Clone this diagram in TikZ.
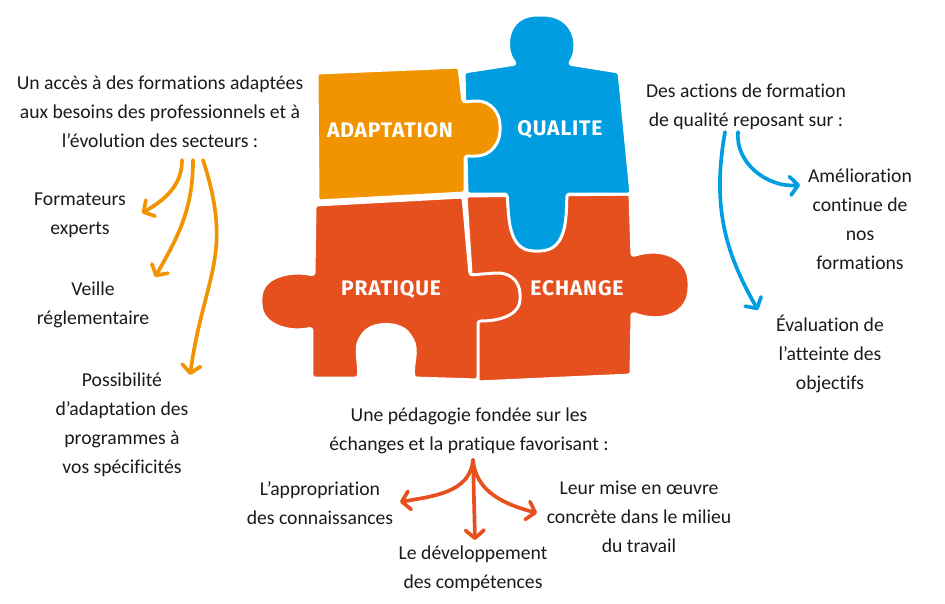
\documentclass[tikz,border=0pt]{standalone}
\usepackage{fontspec}
\setmainfont{Carlito}[Ligatures=NoCommon]
\newfontfamily\piecefont{Fira Sans}[LetterSpace=4]
\usetikzlibrary{arrows.meta,calc}
\definecolor{orangeA}{HTML}{F29400}
\definecolor{bleuQ}{HTML}{009EE0}
\definecolor{rougeP}{HTML}{E5501E}
\definecolor{texteN}{HTML}{1A1A1A}

\begin{document}
\begin{tikzpicture}[x=0.02cm,y=-0.02cm,
    piece/.style={draw=white,line width=1.7pt,line join=round,rounded corners=1.5pt},
    etiquette/.style={text=white,font=\piecefont\bfseries\fontsize{12}{14}\selectfont},
    bloc/.style={align=center,text=texteN,font=\fontsize{11.2}{16.5}\selectfont},
    fleche/.style={line width=2.1pt,line cap=round,-{Straight Barb[length=4.5pt,width=10.5pt,round]}},]
    \useasboundingbox (0,0) rectangle (945,603);
    \path[piece,fill=rougeP] (466,196) -- (630,194) -- (632,256) .. controls (662,246) and (689,258) .. (689,285) .. controls (689,314) and (662,324) .. (632,313) -- (631,375) -- (478,382) -- cycle;
    \path[piece,fill=bleuQ] (464,72) -- (516,64) .. controls (504,50) and (505,15) .. (540,15) .. controls (576,15) and (580,48) .. (569,64) -- (619,72) -- (631,194) -- (567,194) .. controls (566,215) and (568,251) .. (537,251) .. controls (507,251) and (509,215) .. (507,194) -- (467,194) -- cycle;
    \path[piece,fill=orangeA] (317,73) -- (459,67) -- (463,102) -- (474,101) .. controls (492,101) and (500,114) .. (500,128) .. controls (500,143) and (491,156) .. (473,156) -- (465,156) -- (465,193) -- (318,201) -- cycle;
    \path[piece,fill=rougeP] (315,205) -- (463,197) -- (470,275) -- (495,273) .. controls (513,273) and (520,284) .. (520,297) .. controls (520,311) and (507,321) .. (478,321) -- (478,380) -- (414,378) .. controls (412,365) and (419,350) .. (411,337) .. controls (401,321) and (371,321) .. (361,337) .. controls (354,349) and (360,365) .. (358,378) -- (312,378) -- (312,328) .. controls (290,333) and (261,326) .. (261,301) .. controls (261,276) and (290,270) .. (314,275) -- cycle;
    \node[etiquette] at (390,130) (pieceAdaptation) {ADAPTATION};
    \node[etiquette] at (560,130) (pieceQualite) {QUALITE};
    \node[etiquette] at (391,290) (piecePratique) {PRATIQUE};
    \node[etiquette] at (577,288) (pieceEchange) {ECHANGE};
    \node[bloc] at (160,112) (blocAcces) {Un accès à des formations adaptées\\aux besoins des professionnels et à\\l’évolution des secteurs :};
    \node[bloc] at (80,215) (blocFormateurs) {Formateurs\\experts};
    \node[bloc] at (93,305) (blocVeille) {Veille\\réglementaire};
    \node[bloc] at (122,425) (blocPossibilite) {Possibilité\\d’adaptation des\\programmes à\\vos spécificités};
    \node[bloc] at (746,107) (blocActions) {Des actions de formation\\de qualité reposant sur :};
    \node[bloc] at (860,219) (blocAmelioration) {Amélioration\\continue de\\nos\\formations};
    \node[bloc] at (830,354) (blocEvaluation) {Évaluation de\\l’atteinte des\\objectifs};
    \node[bloc] at (469,431) (blocPedagogie) {Une pédagogie fondée sur les\\échanges et la pratique favorisant :};
    \node[bloc] at (320,503) (blocAppropriation) {L’appropriation\\des connaissances};
    \node[bloc] at (473,569) (blocDeveloppement) {Le développement\\des compétences};
    \node[bloc] at (639,517) (blocMise) {Leur mise en œuvre\\concrète dans le milieu\\du travail};
    \path[fleche,orangeA] ($(blocAcces)+(22,48)$) edge[out=-90,in=30] ($(blocFormateurs)+(62,-2)$);
    \path[fleche,orangeA] ($(blocAcces)+(33,48)$) edge[out=-90,in=60] ($(blocVeille)+(62,-28)$);
    \path[fleche,orangeA] ($(blocAcces)+(43,48)$) edge[out=-72,in=82,looseness=1.2] ($(blocPossibilite)+(68,-50)$);
    \path[fleche,bleuQ] ($(blocActions)+(-21,25)$) edge[out=-100,in=120] ($(blocEvaluation)+(-72,-44)$);
    \path[fleche,bleuQ] ($(blocActions)+(-8,25)$) edge[out=-95,in=185] ($(blocAmelioration)+(-60,-34)$);
    \path[fleche,rougeP] ($(blocPedagogie)+(4,29)$) edge[out=-95,in=10] ($(blocAppropriation)+(80,-1)$);
    \path[fleche,rougeP] ($(blocPedagogie)+(4,29)$) edge ($(blocDeveloppement)+(2,-29)$);
    \path[fleche,rougeP] ($(blocPedagogie)+(4,29)$) edge[out=-85,in=165] ($(blocMise)+(-102,-4)$);
\end{tikzpicture}
\end{document}
